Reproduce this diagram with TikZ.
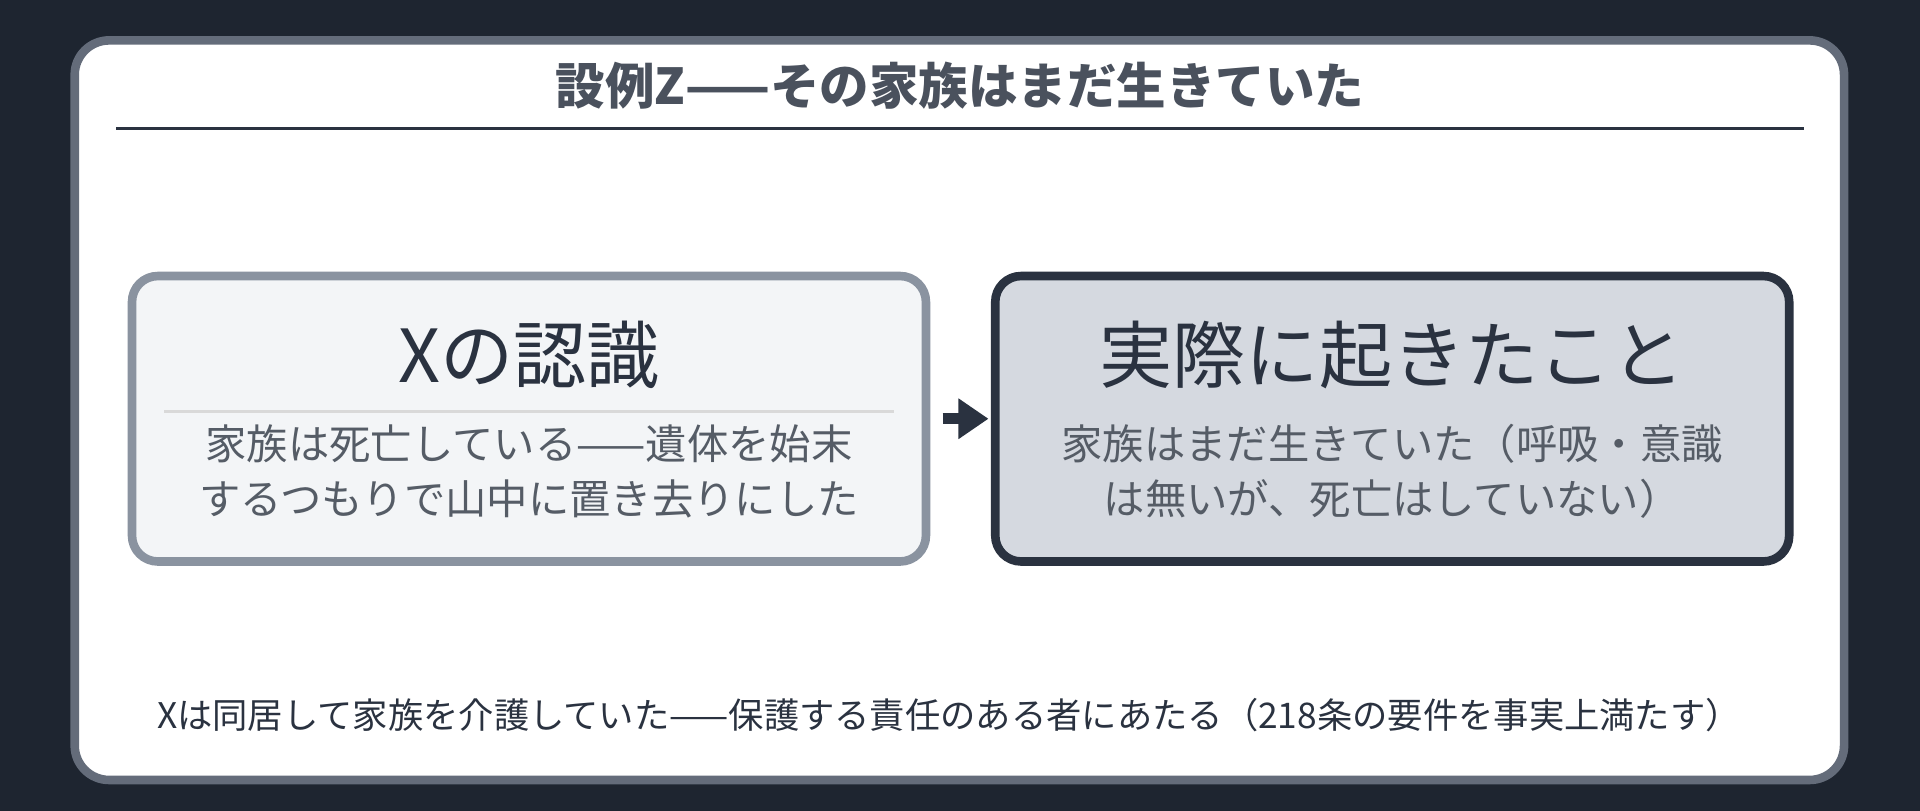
\documentclass[tikz,border=0pt]{standalone}
\usepackage{fontspec}
\setmainfont{Noto Sans CJK JP}
\usetikzlibrary{positioning,arrows.meta}
\definecolor{bgdark}{HTML}{1E2530}
\definecolor{inkdark}{HTML}{2A3240}
\definecolor{inkgray}{HTML}{555C66}
\definecolor{leftfill}{HTML}{F3F5F7}
\definecolor{leftline}{HTML}{8A93A0}
\definecolor{rightfill}{HTML}{D5D9E0}
\tikzset{
    box/.style={rounded corners=6pt, line width=2pt, minimum width=6.48cm, minimum height=2.33cm},
    boxtitle/.style={font=\fontsize{17}{20}\selectfont, text=inkdark},
    boxtext/.style={font=\fontsize{9.6}{12.8}\selectfont, text=inkgray, align=center}
}
\begin{document}
\begin{tikzpicture}[x=0.01cm,y=-0.01cm]
        % background and panel
        \fill[bgdark] (0,0) rectangle (1568,662);
        \useasboundingbox (0,0) rectangle (1568,662);
        \draw[fill=white, draw=leftline!60!inkdark, line width=2pt, rounded corners=8pt] (61,33) rectangle (1506,637);

        % title
        \node[font=\bfseries\fontsize{11.5}{14}\selectfont, text=inkdark!85!white] (title) at (784,70) {設例Z——その家族はまだ生きていた};
        \draw[inkdark, line width=0.6pt] (95,105) -- (1473,105);

        % boxes
        \node[box, draw=leftline, fill=leftfill] (belief) at (432,342) {};
        \node[box, draw=inkdark, fill=rightfill] (fact) at (1137,342) {};

        \node[boxtitle] (beliefhead) at (432,290) {Xの認識};
        \draw[gray!30, line width=0.8pt] (134,336) -- (730,336);
        \node[boxtext] (belieftext) at (432,385) {家族は死亡している——遺体を始末\\するつもりで山中に置き去りにした};

        \node[boxtitle] (facthead) at (1137,290) {実際に起きたこと};
        \node[boxtext] (facttext) at (1137,385) {家族はまだ生きていた（呼吸・意識\\は無いが、死亡はしていない）};

        % arrow
        \draw[-{Triangle[length=7pt,width=9pt]}, inkdark, line width=2.5pt, shorten <=0.1cm, shorten >=0.02cm] (belief) -- (fact);

        % note
        \node[font=\fontsize{8.2}{10}\selectfont, text=inkdark] (note) at (775,584) {Xは同居して家族を介護していた——保護する責任のある者にあたる（218条の要件を事実上満たす）};
\end{tikzpicture}
\end{document}
